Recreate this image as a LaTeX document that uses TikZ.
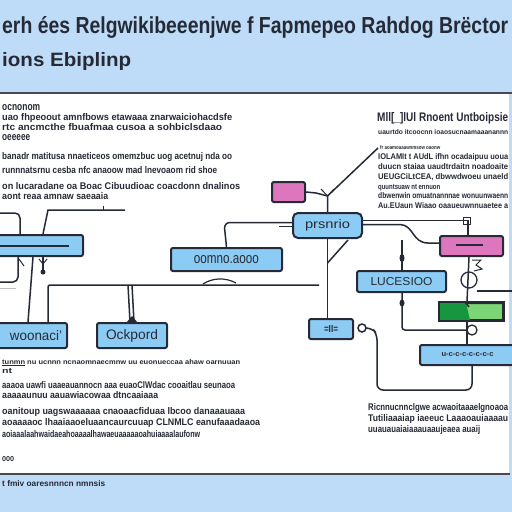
\documentclass[tikz,border=0pt]{standalone}
\usepackage{fontspec}
\setmainfont{Liberation Sans}
\usepackage{graphicx}
\usetikzlibrary{calc}
\definecolor{bgblue}{RGB}{190,220,247}
\definecolor{boxblue}{RGB}{140,204,244}
\definecolor{pinkb}{RGB}{222,118,190}
\definecolor{dgreen}{RGB}{22,150,62}
\definecolor{lgreen}{RGB}{125,214,118}
\definecolor{ink}{RGB}{38,42,54}
\tikzset{
 box/.style={draw=ink, line width=2pt, fill=boxblue, rounded corners=2pt, inner sep=0pt, text=ink},
 pinkbox/.style={box, fill=pinkb},
 conn/.style={draw=ink, line width=1.5pt},
 thin/.style={draw=ink, line width=1pt},
 txt/.style={anchor=base west, inner sep=0pt, text=ink},
}
\newcommand\tx[6]{\node[txt] (#1) at (#2,#4) {\resizebox{\dimexpr #3pt-(#2pt)\relax}{#5pt}{\bfseries #6}};}
\begin{document}
\begin{tikzpicture}[x=1pt,y=-1pt]
\useasboundingbox (0,0) rectangle (512,512);
\clip (0,0) rectangle (512,512);
% background
\fill[bgblue] (0,0) rectangle (512,512);
\fill[white] (0,93) rectangle (509,474);
\draw[ink!85, line width=2pt] (0,93) -- (512,93);
\draw[ink!85, line width=2pt] (0,474) -- (510,474);
% title
\tx{t1}{2}{508}{33}{17}{erh ées Relgwikibeeenjwe f Fapmepeo Rahdog Brëctor}
\tx{t2}{2}{131}{66}{14}{ions Ebiplinp}
\tx{t3}{2}{105}{486}{6}{t fmiv oaresnnncn nmnsis}
% left text block
\tx{l1}{2}{40}{110}{6}{ocnonom}
\tx{l2}{2}{232}{120}{7}{uao fhpeoout amnfbows etawaaa znarwaiciohacdsfe}
\tx{l3}{2}{222}{130}{7}{rtc ancmcthe fbuafmaa cusoa a sohbiclsdaao}
\tx{l4}{2}{30}{140}{6}{oeeeee}
\tx{l5}{2}{232}{159}{7}{banadr matitusa nnaeticeos omemzbuc uog acetnuj nda oo}
\tx{l6}{2}{217}{173}{7}{runnnatsrnu cesba nfc anaoow mad lnevoaom rid shoe}
\tx{l7}{2}{240}{189}{7}{on lucaradane oa Boac Cibuudioac coacdonn dnalinos}
\tx{l8}{2}{108}{199}{7}{aont reaa amnaw saeaaia}
% right text block
\tx{r1}{377}{508}{121}{9}{Mll[\_]lUl Rnoent Untboipsie}
\tx{r2}{378}{508}{134}{5}{uaurtdo itcoocnn ioaosucnaamaaanannn}
\tx{r3}{380}{440}{149}{4}{fr aoamoaaawnmsow oaonw}
\tx{r4}{378}{508}{159}{6}{IOLAMIt t AUdL ifhn ocadaipuu uoua}
\tx{r5}{378}{508}{169}{6}{duucn staiaa uaudtrdaitn noadoaite}
\tx{r6}{378}{508}{179}{6}{UEUGCiLtCEA, dbwwdwoeu unaeld}
\tx{r7}{378}{440}{189}{5}{quuntsuaw nt ennuon}
\tx{r8}{378}{508}{198}{6}{dbwenwin omuatnannnae wonuunwaenn}
\tx{r9}{378}{508}{208}{6}{Au.EUaun Wiaao oaaueuwnnuaetee a}
% bottom left text block
\tx{bl1}{2}{240}{364}{5}{\underline{tunmn} nu ucnnn ncnaomnaecmnw uu euonueccaa ahaw oarnuuan}
\tx{bl2}{2}{12}{373}{5}{nt}
\tx{bl3}{2}{235}{388}{7}{aaaoa uawfi uaaeauannocn aaa euaoClWdac cooaitlau seunaoa}
\tx{bl4}{2}{158}{398}{7}{aaaaaunuu aauawiacowaa dtncaaiaaa}
\tx{bl5}{2}{245}{414}{7}{oanitoup uagswaaaaaa cnaoaacfiduaa lbcoo danaaauaaa}
\tx{bl6}{2}{260}{425}{7}{aoaaaaoc lhaaiaaoeluaancaurcuuap CLNMLC eanufaaadaaoa}
\tx{bl7}{2}{200}{437}{7}{aoiaaalaahwaidaeahoaaaalhawaeuaaaaaoahuiaaaalaufonw}
\tx{bl8}{2}{14}{461}{5}{ooo}
% bottom right text block
\tx{br1}{368}{508}{410}{7}{Ricnnucnnclgwe acwaoitaaaelgnoaoa}
\tx{br2}{368}{508}{421}{7}{Tutiliaaaiap  iaeeuc Laaaoauiaaaau}
\tx{br3}{368}{480}{432}{7}{uuauauaiaiaaauaaujeaea auaij}
% nodes
\node[box, minimum width=88pt, minimum height=21pt] (b1) at (39,245.5) {};
\node[box, minimum width=72pt, minimum height=25pt] (b2) at (31,335.5) {\hspace*{10pt}\resizebox{52pt}{10pt}{woonaci'}};
\node[box, minimum width=70pt, minimum height=25pt] (b3) at (132,335.5) {\resizebox{52pt}{10pt}{Ockpord}};
\node[box, minimum width=111pt, minimum height=23pt] (b4) at (226.5,259.5) {\resizebox{65pt}{8pt}{oomno.aooo}};
\node[box, rounded corners=5pt, minimum width=69pt, minimum height=25pt] (c) at (327.5,225.5) {\resizebox{45pt}{9pt}{prsnrio}};
\node[pinkbox, minimum width=33pt, minimum height=20pt] (p1) at (288.5,192) {};
\node[pinkbox, minimum width=63pt, minimum height=20pt] (p2) at (471.5,246) {};
\node[box, minimum width=89pt, minimum height=21pt] (luc) at (401.5,281.5) {\resizebox{62pt}{8pt}{LUCESIOO}};
\node[box, fill=lgreen, rounded corners=1pt, minimum width=63pt, minimum height=17pt] (g) at (471.5,311.5) {};
\fill[dgreen] ($(g.north west)+(1,1)$) -- ($(g.north west)+(27,1)$) -- ($(g.south west)+(31,-1)$) -- ($(g.south west)+(1,-1)$) -- cycle;
\draw[ink, line width=2pt] (g.north west) rectangle (g.south east);
\draw[ink, line width=1.5pt] ($(g.north west)+(26,0)$) -- ($(g.north west)+(30,5)$);
\node[box, minimum width=44pt, minimum height=20pt] (s) at (331,329) {\resizebox{14pt}{7pt}{\bfseries =II=}};
\node[box, minimum width=95pt, minimum height=20pt] (br) at (467.5,355) {\resizebox{52pt}{4pt}{\bfseries u-c-c-c-c-c-c-c}};
\node[circle, draw=ink, line width=1.5pt, minimum size=8pt, inner sep=0pt] (sc) at (362,328) {};
% inner lines
\draw[ink, line width=2pt] ($(b1.west)+(0,0.5)$) -- ($(b1.west)+(75,0.5)$);
\draw[ink, line width=2.5pt] ($(p2.center)+(-16,-1)$) -- ($(p2.center)+(11,-1)$);
% center connections
\coordinate (J) at (327.5,196);
\coordinate (rt) at (378,148);
\draw[conn] (c.north) -- (J) -- (rt);
\draw[conn] (p1.east) -- (316,193) -- (J);
\draw[thin] (321,189) -- (J) -- (334,189);
\draw[conn, rounded corners=6pt] ($(c.west)+(0,-3)$) -- (224,222.5) -- (b4.north);
\draw[conn] (279,226.5) -- ($(c.west)+(0,1)$);
\draw[conn] ($(c.east)+(0,-5)$) -- (468,220.5) -- ($(p2.north)+(-3.5,0)$);
\draw[thin] (463,217) rectangle (470,224);
\draw[conn] ($(c.east)+(0,-1)$) -- (400,224.5) .. controls (414,225) and (412,243) .. (428,243) -- ($(p2.west)+(0,-3)$);
\draw[conn] (c.south) -- (c.south |- s.north);
\coordinate (cb) at (327.5,263);
\coordinate (cb2) at (348,240);
\draw[conn] (cb) -- (cb2);
% LUCESIOO
\coordinate (lt) at (402,240);
\draw[conn] (lt) -- ($(luc.north)+(0.5,0)$);
\fill[ink] (402,258) ellipse (2.5 and 4);
\draw[conn, rounded corners=3pt] ($(luc.south)+(0.5,0)$) -- (402,330) -- (466,330);
\fill[ink] (402,303) ellipse (2.5 and 3.5);
% green / pink2
\draw[conn] ($(p2.south)+(-2.5,0)$) -- ($(g.north)+(-4.5,0)$);
\draw[ink, line width=1.3pt] (469,280) circle (8);
\draw[thin] (472,260) -- (481,260) -- (476,265) -- (482,269) -- (474,271);
\coordinate (ge) at (512,291);
\draw[conn] (477,291) -- (ge);
\draw[conn] ($(g.south)+(-4.5,0)$) -- ($(br.north)+(-0.5,0)$);
\draw[ink, line width=1.3pt] (472,330) circle (5);
\draw[conn, rounded corners=6pt] (sc.east) -- (372,328) -- (377,334) -- (377,390) -- (472,390) -- ($(br.south)+(4.5,0)$);
% left side
\draw[conn, rounded corners=5pt] (-2,213) -- (20,213) -- ($(b1.north)+(-19,0)$);
\draw[conn] ($(b1.north)+(4,0)$) -- (48,210) -- (125,210);
\draw[thin] (103,206) -- (103,210);
\draw[conn, rounded corners=5pt] ($(b1.south)+(-21,0)$) -- (18,282) -- (-2,282);
\draw[gray!50, line width=1pt] (0,288) -- (16,288);
\draw[conn] ($(b1.south)+(-6,0)$) -- ($(b2.north)+(-3,0)$);
\draw[conn] ($(b1.south)+(4,0)$) -- (43,270);
\fill[ink] (43,272) circle (2.5);
\draw[thin] (39,259) -- (43,264) -- (47,259);
\draw[thin] (19,259) -- (24,266);
\draw[conn, rounded corners=2pt] ($(b2.north)+(17,0)$) -- (48,285) -- (319,285);
\draw[conn] (128,285) -- ($(b3.north)+(-2,0)$);
\draw[conn] (132,285) -- ($(b3.north)+(2,0)$);
\fill[ink] (126,323) -- (138,323) -- (132,316) -- cycle;
\draw[ink, line width=1.2pt] (203,284) .. controls (212,278) and (225,277) .. (236,283);
\end{tikzpicture}
\end{document}
